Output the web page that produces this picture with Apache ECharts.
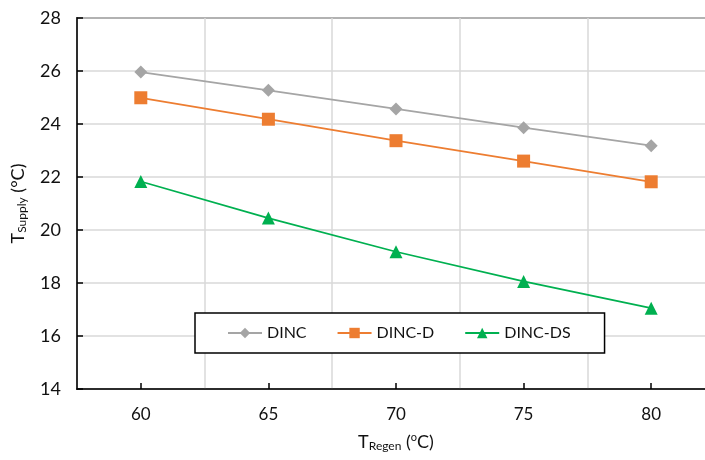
<!DOCTYPE html>
<html>
<head>
<meta charset="utf-8">
<script src="https://cdn.jsdelivr.net/npm/echarts@6/dist/echarts.min.js"></script>
<style>
html, body {margin:0; padding:0; background:#fff;}
#chart {width:705px; height:460px;}
</style>
</head>
<body>
<div id="chart"></div>
<script type="text/javascript">
	// regeneration temperature (category axis)
	var tRegen = ['60', '65', '70', '75', '80'];
	// supply temperature, one list per configuration
	var dinc   = [25.96, 25.27, 24.57, 23.86, 23.18];
	var dincD  = [24.99, 24.18, 23.37, 22.60, 21.82];
	var dincDS = [21.83, 20.45, 19.18, 18.06, 17.05];
	var yTicks = [14, 16, 18, 20, 22, 24, 26, 28];

	var dom = document.getElementById('chart');
	var myChart = echarts.init(dom);
	var font = 'Lato, "Open Sans", sans-serif';

	var option = {
		animation: false,
		textStyle: {fontFamily: font},
		// plot runs a little past the right edge of the picture
		grid: {
			left: 77, top: 18, bottom: 71, width: 638,
			outerBoundsMode: 'none',
			show: true, borderColor: '#000', borderWidth: 1.5
		},
		legend: {
			left: 195, top: 313,
			padding: [12, 34, 12, 32],
			itemGap: 30,
			itemWidth: 34, itemHeight: 13,
			borderColor: '#000', borderWidth: 1.5,
			backgroundColor: '#fff',
			textStyle: {fontSize: 16, color: '#111', fontFamily: font},
			data: ['DINC', 'DINC-D', 'DINC-DS']
		},
		xAxis: {
			type: 'category',
			data: tRegen,
			boundaryGap: true,
			name: '{t|T}{s|Regen}{t| (}{o|o}{t|C)}',
			nameLocation: 'middle',
			nameGap: 43,
			nameTextStyle: {
				rich: {
					t: {fontSize: 18, color: '#111', fontFamily: font},
					s: {fontSize: 12, color: '#111', fontFamily: font, verticalAlign: 'bottom', padding: [8, 0, 0, 0]},
					o: {fontSize: 11, color: '#111', fontFamily: font, verticalAlign: 'top', padding: [0, 0, 6, 0]}
				}
			},
			axisLine: {lineStyle: {color: '#000', width: 1.5}},
			axisTick: {show: true, inside: true, alignWithLabel: true, length: 6, lineStyle: {color: '#000', width: 1.5}},
			axisLabel: {fontSize: 17, color: '#111', margin: 17},
			splitLine: {show: true, lineStyle: {color: '#d9d9d9', width: 1.5}}
		},
		yAxis: {
			type: 'value',
			min: yTicks[0], max: yTicks[yTicks.length - 1], interval: 2,
			name: '{t|T}{s|Supply}{t| (°C)}',
			nameLocation: 'middle',
			nameGap: 49,
			nameTextStyle: {
				rich: {
					t: {fontSize: 18, color: '#111', fontFamily: font},
					s: {fontSize: 12, color: '#111', fontFamily: font, verticalAlign: 'bottom', padding: [8, 0, 0, 0]}
				}
			},
			axisLine: {show: true, lineStyle: {color: '#000', width: 1.5}},
			axisTick: {show: true, inside: true, length: 6, lineStyle: {color: '#000', width: 1.5}},
			axisLabel: {fontSize: 18, color: '#111', margin: 16},
			splitLine: {show: true, lineStyle: {color: '#d9d9d9', width: 1.5}}
		},
		series: [
			{
				name: 'DINC', type: 'line', data: dinc,
				symbol: 'diamond', symbolSize: 13,
				itemStyle: {color: '#a5a5a5'},
				lineStyle: {color: '#a5a5a5', width: 1.75}
			},
			{
				name: 'DINC-D', type: 'line', data: dincD,
				symbol: 'rect', symbolSize: 13,
				itemStyle: {color: '#ed7d31'},
				lineStyle: {color: '#ed7d31', width: 1.75}
			},
			{
				name: 'DINC-DS', type: 'line', data: dincDS,
				symbol: 'triangle', symbolSize: 13,
				itemStyle: {color: '#00b050'},
				lineStyle: {color: '#00b050', width: 1.75}
			}
		]
	};
	myChart.setOption(option, true);
</script>
</body>
</html>
